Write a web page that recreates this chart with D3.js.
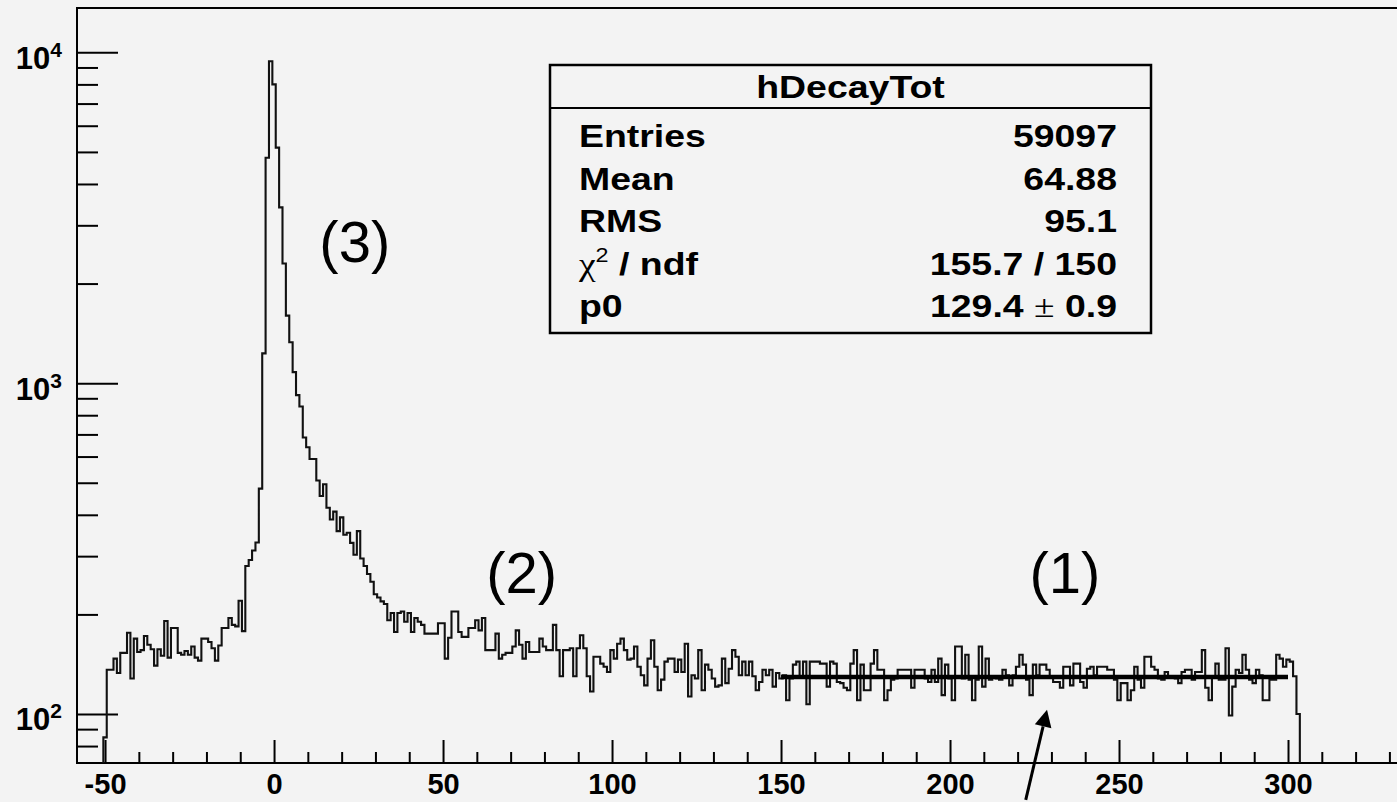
<!DOCTYPE html>
<html lang="en">

<head>
  <meta charset="UTF-8">
  <title>hDecayTot</title>
  <script src="https://d3js.org/d3.v7.min.js"></script>
  <style>
    body { margin: 0; background: #f3f3f3; }
    svg { display: block; }
    text { font-family: "Liberation Sans", Arial, Helvetica, sans-serif; }
  </style>
</head>

<body>
  <script>
    // histogram: bins 1 unit wide, centred on integers, first bin at -50
    const firstBin = -50;
    const counts = [
      85, 136, 136, 147, 133, 153, 153, 176, 128, 169,
      154, 156, 172, 162, 157, 140, 157, 150, 191, 148,
      182, 182, 153, 151, 155, 151, 160, 148, 145, 169,
      169, 165, 158, 145, 161, 182, 182, 195, 186, 184,
      220, 178, 280, 292, 312, 330, 480, 1230, 4800, 9400,
      8000, 5150, 3400, 2300, 1600, 1330, 1080, 920, 850, 685,
      640, 590, 590, 508, 456, 495, 420, 387, 409, 357,
      393, 348, 353, 329, 303, 357, 295, 280, 265, 251,
      230, 225, 219, 215, 192, 202, 177, 202, 204, 190,
      202, 177, 195, 190, 186, 175, 175, 175, 175, 188,
      188, 147, 170, 204, 204, 177, 171, 171, 182, 182,
      192, 179, 195, 156, 156, 156, 175, 147, 151, 153,
      153, 160, 179, 162, 147, 165, 154, 154, 154, 169,
      160, 156, 156, 186, 156, 130, 156, 156, 158, 130,
      158, 173, 158, 130, 117, 149, 149, 142, 139, 134,
      156, 147, 163, 169, 156, 146, 147, 160, 139, 131,
      122, 147, 167, 139, 118, 127, 144, 147, 147, 134,
      146, 134, 163, 113, 131, 128, 156, 118, 141, 136,
      128, 121, 122, 147, 124, 137, 156, 149, 131, 144,
      131, 144, 130, 118, 125, 136, 131, 136, 121, 133,
      128, 131, 110, 128, 141, 144, 130, 144, 107, 144,
      144, 144, 142, 142, 121, 144, 142, 125, 124, 120,
      118, 142, 156, 110, 141, 118, 118, 142, 156, 136,
      136, 110, 118, 127, 128, 136, 136, 136, 136, 120,
      136, 136, 136, 128, 125, 136, 125, 147, 114, 141,
      128, 110, 160, 160, 128, 151, 127, 110, 127, 160,
      121, 147, 127, 130, 128, 127, 136, 131, 122, 131,
      139, 151, 141, 127, 114, 141, 131, 141, 141, 136,
      130, 125, 125, 120, 139, 139, 122, 142, 142, 125,
      120, 137, 139, 131, 139, 139, 139, 136, 136, 127,
      110, 124, 124, 110, 118, 139, 127, 120, 149, 149,
      139, 136, 128, 127, 134, 130, 130, 128, 124, 134,
      136, 136, 127, 134, 134, 156, 120, 110, 130, 142,
      127, 127, 158, 99, 121, 136, 133, 151, 136, 127,
      124, 136, 131, 110, 110, 127, 127, 151, 147, 139,
      146, 144, 130, 100
    ];

    // constant fit (pol0) over the flat region
    const fitValue = 129.4;
    const fitRange = [150, 300];

    const xLabels = [-50, 0, 50, 100, 150, 200, 250, 300];
    const yLabels = [100, 1000, 10000];

    const statsTitle = 'hDecayTot';
    const statsNames = ['Entries', 'Mean', 'RMS', 'χ^2 / ndf', 'p0'];
    const statsValues = ['59097', '64.88', '95.1', '155.7 / 150', '129.4 ± 0.9'];

    // region labels and arrow, in data coordinates
    const regionLabels = [
      { text: '(3)', x: 13.4, y: 2320 },
      { text: '(2)', x: 62.8, y: 232 },
      { text: '(1)', x: 223.5, y: 232 }
    ];
    const arrowFrom = [222.4, 55];
    const arrowTo = [228.7, 103];

    const w = 1397;
    const h = 802;
    const frameL = 77, frameT = 8, frameR = 1457, frameB = 763;

    const xScale = d3.scaleLinear()
      .domain([-58.3, 350])
      .range([frameL, frameR]);

    const yScale = d3.scaleLog()
      .domain([71.1, 13614])
      .range([frameB, frameT]);

    const svg = d3.select('body')
      .append('svg')
      .attr('width', w)
      .attr('height', h);

    svg.append('rect')
      .attr('width', w)
      .attr('height', h)
      .attr('fill', '#f3f3f3');

    // x axis: major every 50, minor every 10, ticks pointing up
    const xMinor = d3.range(-50, 350, 10).filter(v => v % 50 !== 0);
    svg.append('g')
      .attr('transform', `translate(0,${frameB})`)
      .call(d3.axisBottom(xScale).tickValues(xMinor).tickSize(-11).tickFormat(''))
      .call(g => g.select('.domain').remove())
      .selectAll('line').attr('stroke', '#000').attr('stroke-width', 2);

    const xAxis = svg.append('g')
      .attr('transform', `translate(0,${frameB})`)
      .call(d3.axisBottom(xScale).tickValues(xLabels.concat([350])).tickSize(-23)
        .tickFormat(d => xLabels.includes(d) ? d : ''))
      .call(g => g.select('.domain').remove());
    xAxis.selectAll('line').attr('stroke', '#000').attr('stroke-width', 2);
    xAxis.selectAll('text')
      .attr('y', 31)
      .attr('dy', 0)
      .attr('fill', '#000')
      .style('font-size', '29px')
      .style('font-weight', 'bold')
      .style('font-family', '"Liberation Sans", Arial, sans-serif');

    // y axis: log, minor ticks at 2..9 of each decade
    const yMinor = [];
    [10, 100, 1000, 10000].forEach(dec => {
      for (let k = 2; k <= 9; k++) {
        const v = dec * k;
        if (v > yScale.domain()[0] && v < yScale.domain()[1]) yMinor.push(v);
      }
    });
    svg.append('g')
      .attr('transform', `translate(${frameL},0)`)
      .call(d3.axisLeft(yScale).tickValues(yMinor).tickSize(-21).tickFormat(''))
      .call(g => g.select('.domain').remove())
      .selectAll('line').attr('stroke', '#000').attr('stroke-width', 2);

    const yAxis = svg.append('g')
      .attr('transform', `translate(${frameL},0)`)
      .call(d3.axisLeft(yScale).tickValues(yLabels).tickSize(-41).tickFormat(''))
      .call(g => g.select('.domain').remove());
    yAxis.selectAll('line').attr('stroke', '#000').attr('stroke-width', 2);
    yAxis.selectAll('.tick text')
      .attr('x', -15)
      .attr('y', 16)
      .attr('dy', 0)
      .attr('fill', '#000')
      .style('font-size', '31px')
      .style('font-weight', 'bold')
      .each(function (d) {
        const t = d3.select(this);
        t.append('tspan').text('10');
        t.append('tspan')
          .attr('dy', -12)
          .style('font-size', '21px')
          .text(Math.round(Math.log10(d)));
      });

    // frame
    svg.append('rect')
      .attr('x', frameL)
      .attr('y', frameT)
      .attr('width', frameR - frameL)
      .attr('height', frameB - frameT)
      .attr('fill', 'none')
      .attr('stroke', '#000')
      .attr('stroke-width', 2);

    // histogram outline
    const yMin = yScale.domain()[0];
    const lastEdge = firstBin + counts.length - 0.5;
    const pts = [[firstBin - 0.5, yMin]];
    counts.forEach((c, i) => pts.push([firstBin + i - 0.5, c]));
    pts.push([lastEdge, counts[counts.length - 1]]);
    pts.push([lastEdge, yMin]);

    const stepLine = d3.line()
      .x(d => xScale(d[0]))
      .y(d => yScale(d[1]))
      .curve(d3.curveStepAfter);

    svg.append('path')
      .datum(pts)
      .attr('d', stepLine)
      .attr('fill', 'none')
      .attr('stroke', '#111')
      .attr('stroke-width', 2.1);

    // fit line
    svg.append('line')
      .attr('x1', xScale(fitRange[0]))
      .attr('x2', xScale(fitRange[1]))
      .attr('y1', yScale(fitValue))
      .attr('y2', yScale(fitValue))
      .attr('stroke', '#000')
      .attr('stroke-width', 4.5);

    // stats box
    const bx = 550, by = 65, bw = 601, bh = 268;
    const stats = svg.append('g');
    stats.append('rect')
      .attr('x', bx).attr('y', by)
      .attr('width', bw).attr('height', bh)
      .attr('fill', '#f3f3f3')
      .attr('stroke', '#000')
      .attr('stroke-width', 2.5);
    stats.append('line')
      .attr('x1', bx).attr('x2', bx + bw)
      .attr('y1', by + 43).attr('y2', by + 43)
      .attr('stroke', '#000')
      .attr('stroke-width', 2);

    const sx = 1.17;
    function boxText(x, y, anchor) {
      return stats.append('text')
        .attr('transform', `translate(${x},${y}) scale(${sx},1)`)
        .attr('text-anchor', anchor)
        .style('font-size', '32px')
        .style('font-weight', 'bold');
    }

    boxText(bx + bw / 2, by + 33, 'middle').text(statsTitle);

    // split a string into pieces: Greek / symbol chars in serif, ^n as superscript
    function richText(t, str) {
      const parts = str.split(/(χ|±|\^\d)/).filter(s => s.length);
      let back = 0;
      parts.forEach(p => {
        let span;
        if (p === 'χ' || p === '±') {
          span = t.append('tspan')
            .style('font-family', '"Liberation Serif", "DejaVu Serif", serif')
            .style('font-weight', 'normal')
            .text(p);
        } else if (p[0] === '^') {
          span = t.append('tspan')
            .attr('dy', -13)
            .style('font-size', '20px')
            .style('font-weight', 'normal')
            .text(p.slice(1));
          back = 13;
          return;
        } else {
          span = t.append('tspan').text(p);
        }
        if (back) { span.attr('dy', back); back = 0; }
      });
    }

    statsNames.forEach((name, i) => {
      const yy = 147 + i * 42.5;
      richText(boxText(579, yy, 'start'), name);
      richText(boxText(1117, yy, 'end'), statsValues[i]);
    });

    // region labels
    svg.selectAll('text.region')
      .data(regionLabels)
      .enter()
      .append('text')
      .attr('class', 'region')
      .attr('x', d => xScale(d.x))
      .attr('y', d => yScale(d.y))
      .style('font-size', '58px')
      .text(d => d.text);

    // arrow pointing at the fit
    const ax0 = xScale(arrowFrom[0]), ay0 = yScale(arrowFrom[1]);
    const ax1 = xScale(arrowTo[0]), ay1 = yScale(arrowTo[1]);
    const len = Math.hypot(ax1 - ax0, ay1 - ay0);
    const ux = (ax1 - ax0) / len, uy = (ay1 - ay0) / len;
    const headL = 17, headW = 8.5;
    const bxh = ax1 - ux * headL, byh = ay1 - uy * headL;
    svg.append('line')
      .attr('x1', ax0).attr('y1', ay0)
      .attr('x2', bxh).attr('y2', byh)
      .attr('stroke', '#000')
      .attr('stroke-width', 3);
    svg.append('path')
      .attr('d', `M${ax1},${ay1}L${bxh - uy * headW},${byh + ux * headW}L${bxh + uy * headW},${byh - ux * headW}Z`)
      .attr('fill', '#000');
  </script>
</body>

</html>
